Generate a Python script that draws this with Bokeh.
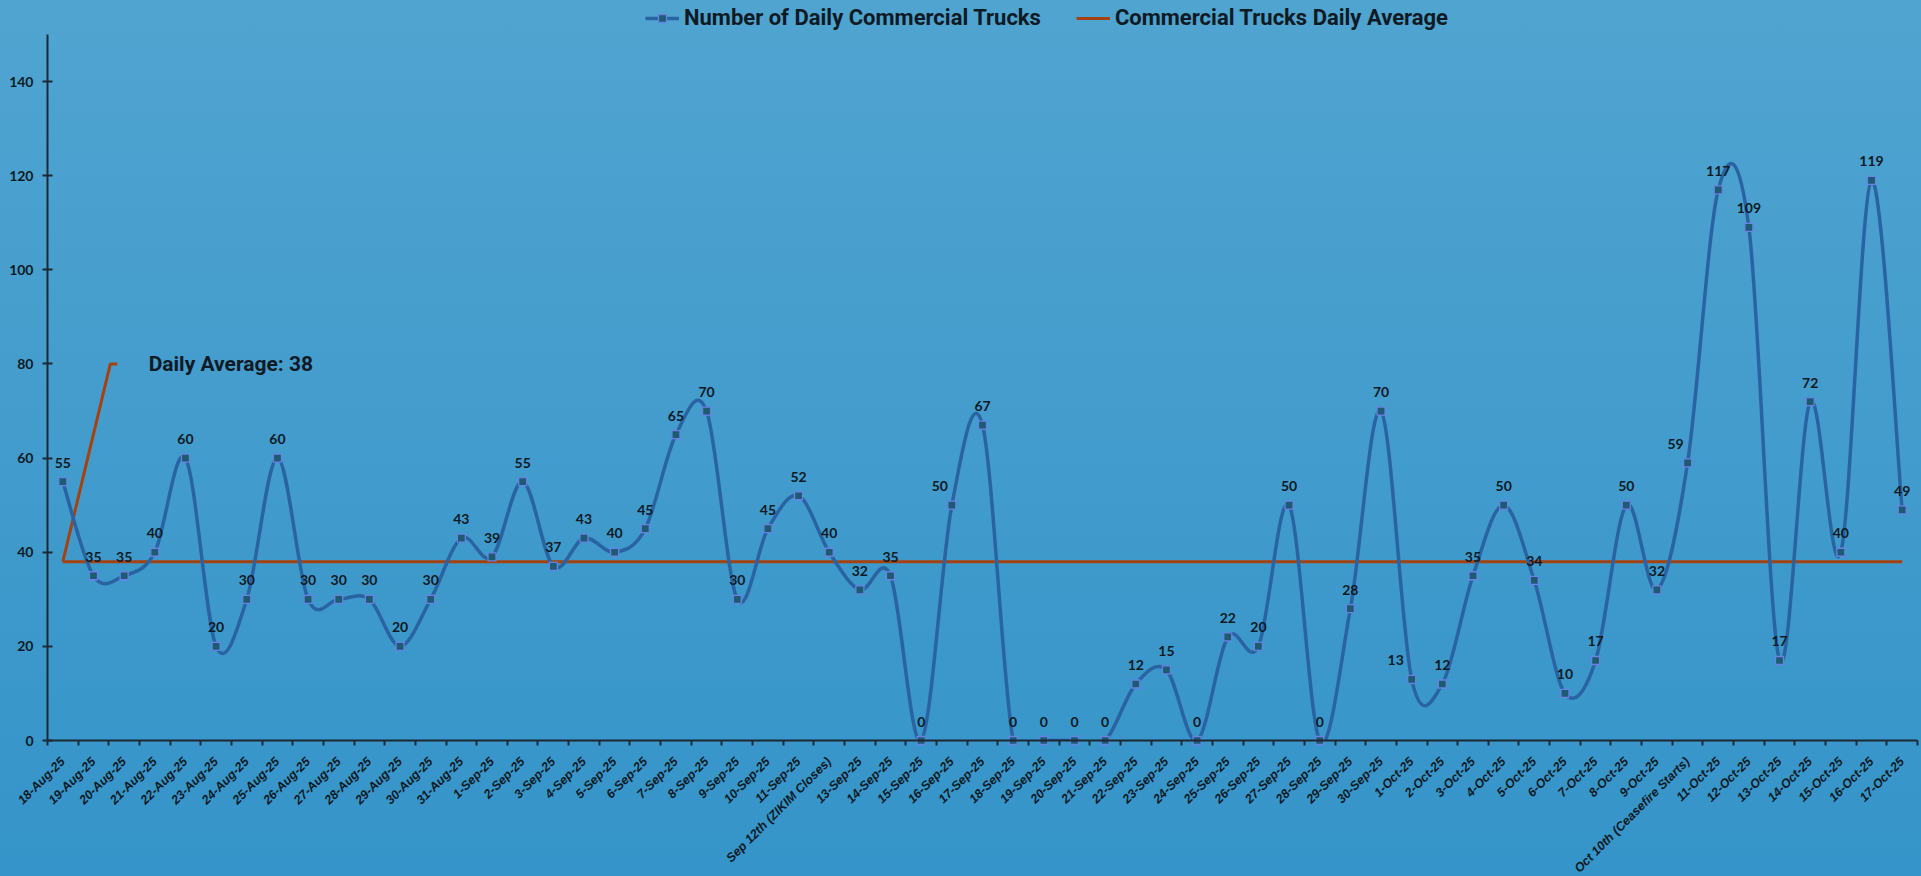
import math
from bokeh.plotting import figure
from bokeh.models import (Range1d, FixedTicker, ColumnDataSource, LabelSet, Label,
                          Legend, LegendItem, InlineStyleSheet)
from bokeh.core.properties import value
from bokeh.embed import file_html
from bokeh.resources import INLINE

# ---------------- data ----------------
dates = [
    "18-Aug-25", "19-Aug-25", "20-Aug-25", "21-Aug-25", "22-Aug-25", "23-Aug-25", "24-Aug-25",
    "25-Aug-25", "26-Aug-25", "27-Aug-25", "28-Aug-25", "29-Aug-25", "30-Aug-25", "31-Aug-25",
    "1-Sep-25", "2-Sep-25", "3-Sep-25", "4-Sep-25", "5-Sep-25", "6-Sep-25", "7-Sep-25",
    "8-Sep-25", "9-Sep-25", "10-Sep-25", "11-Sep-25", "Sep 12th (ZIKIM Closes)", "13-Sep-25",
    "14-Sep-25", "15-Sep-25", "16-Sep-25", "17-Sep-25", "18-Sep-25", "19-Sep-25", "20-Sep-25",
    "21-Sep-25", "22-Sep-25", "23-Sep-25", "24-Sep-25", "25-Sep-25", "26-Sep-25", "27-Sep-25",
    "28-Sep-25", "29-Sep-25", "30-Sep-25", "1-Oct-25", "2-Oct-25", "3-Oct-25", "4-Oct-25",
    "5-Oct-25", "6-Oct-25", "7-Oct-25", "8-Oct-25", "9-Oct-25", "Oct 10th (Ceasefire Starts)",
    "11-Oct-25", "12-Oct-25", "13-Oct-25", "14-Oct-25", "15-Oct-25", "16-Oct-25", "17-Oct-25",
]
trucks = [
    55, 35, 35, 40, 60, 20, 30, 60, 30, 30, 30, 20, 30, 43,
    39, 55, 37, 43, 40, 45, 65, 70, 30, 45, 52, 40, 32, 35, 0, 50,
    67, 0, 0, 0, 0, 12, 15, 0, 22, 20, 50, 0, 28, 70,
    13, 12, 35, 50, 34, 10, 17, 50, 32, 59, 117, 109, 17, 72, 40, 119, 49,
]
AVERAGE = 38
y_ticks = [0, 20, 40, 60, 80, 100, 120, 140]
Y_MAX = 150
series_names = ["Number of Daily Commercial Trucks", "Commercial Trucks Daily Average"]

# ---------------- style / layout ----------------
TEXT = "#0e1a24"
AXIS = "#1c2935"
CURVE = "#2a63a2"
AVG = "#a5420f"
HEAD = "Roboto"
NUMFONT = "Lato"
W, H = 1921, 876
FRAME_L, FRAME_R, FRAME_T, FRAME_B = 47, 1917, 34, 740   # plotting area in pixels
label_dx = {29: -12, 44: -16, 53: -12}   # a few data labels sit left of their point
leader_x = [0, 1.55, 1.78]               # leader line of the average label
leader_y_top = 80
avg_label_x = 2.8

n = len(dates)
idx = list(range(n))

# pixel scale -> ranges so the whole canvas is the frame (axes sit at fixed spots)
px_x = (FRAME_R - FRAME_L) / n
px_y = (FRAME_B - FRAME_T) / Y_MAX
x0r = -0.5 - FRAME_L / px_x
x1r = n - 0.5 + (W - FRAME_R) / px_x
y0r = -(H - FRAME_B) / px_y
y1r = Y_MAX + FRAME_T / px_y

# smoothed curve as Bezier segments (Catmull-Rom control points from the data)
seg = dict(x0=[], y0=[], x1=[], y1=[], cx0=[], cy0=[], cx1=[], cy1=[])
for i in range(n - 1):
    a = max(i - 1, 0)
    d = min(i + 2, n - 1)
    xa, ya = idx[a], trucks[a]
    xb, yb = idx[i], trucks[i]
    xc, yc = idx[i + 1], trucks[i + 1]
    xd, yd = idx[d], trucks[d]
    seg["x0"].append(xb); seg["y0"].append(yb)
    seg["x1"].append(xc); seg["y1"].append(yc)
    seg["cx0"].append(xb + (xc - xa) / 6.0); seg["cy0"].append(yb + (yc - ya) / 6.0)
    seg["cx1"].append(xc - (xd - xb) / 6.0); seg["cy1"].append(yc - (yd - yb) / 6.0)

p = figure(width=W, height=H,
           x_range=Range1d(x0r, x1r), y_range=Range1d(y0r, y1r),
           output_backend="svg", toolbar_location=None,
           min_border_left=0, min_border_right=0, min_border_top=0, min_border_bottom=0)
p.stylesheets = [InlineStyleSheet(css=":host { background: linear-gradient(to bottom, #50a4d0, #3594c9); }")]
p.border_fill_color = None
p.background_fill_color = None
p.outline_line_color = None
p.xgrid.visible = False
p.ygrid.visible = False

# y axis
p.yaxis.fixed_location = -0.5
p.yaxis.bounds = (0, Y_MAX)
p.yaxis.ticker = FixedTicker(ticks=y_ticks)
p.yaxis.axis_line_color = AXIS
p.yaxis.axis_line_width = 2
p.yaxis.major_tick_line_color = AXIS
p.yaxis.major_tick_line_width = 2
p.yaxis.major_tick_in = 5
p.yaxis.major_tick_out = 5
p.yaxis.minor_tick_line_color = None
p.yaxis.major_label_standoff = 9
p.yaxis.major_label_text_font = NUMFONT
p.yaxis.major_label_text_font_style = "bold"
p.yaxis.major_label_text_font_size = "14px"
p.yaxis.major_label_text_color = TEXT

# x axis: labels at categories, tick marks between categories
p.xaxis.fixed_location = 0
p.xaxis.bounds = (-0.5, n - 0.5)
p.xaxis.ticker = FixedTicker(ticks=idx, minor_ticks=[i - 0.5 for i in range(n + 1)])
p.xaxis.major_label_overrides = {i: d for i, d in enumerate(dates)}
p.xaxis.major_label_orientation = math.pi / 4
p.xaxis.major_label_standoff = 14
p.xaxis.major_label_text_font = "Liberation Sans"
p.xaxis.major_label_text_font_style = "bold italic"
p.xaxis.major_label_text_font_size = "12.5px"
p.xaxis.major_label_text_color = TEXT
p.xaxis.axis_line_color = AXIS
p.xaxis.axis_line_width = 2
p.xaxis.major_tick_line_color = None
p.xaxis.major_tick_in = 0
p.xaxis.major_tick_out = 5
p.xaxis.minor_tick_line_color = AXIS
p.xaxis.minor_tick_line_width = 2
p.xaxis.minor_tick_in = 0
p.xaxis.minor_tick_out = 5

# average line + leader + label
avg_r = p.line(idx, [AVERAGE] * n, line_color=AVG, line_width=3)
p.line(leader_x, [AVERAGE, leader_y_top, leader_y_top], line_color=AVG, line_width=3)
p.add_layout(Label(x=avg_label_x, y=leader_y_top, text=f"Daily Average: {AVERAGE}",
                   text_baseline="middle", text_align="left", text_font=HEAD,
                   text_font_style="bold", text_font_size="21px", text_color=TEXT))

# trucks curve
curve_r = p.bezier(source=ColumnDataSource(seg), x0="x0", y0="y0", x1="x1", y1="y1",
                   cx0="cx0", cy0="cy0", cx1="cx1", cy1="cy1",
                   line_color=CURVE, line_width=3.5)
# the curve is cut at the value axis (nothing drawn below zero)
p.quad(left=x0r, right=x1r, bottom=-8, top=0, fill_color="#3996ca", line_color=None)

pts_r = p.scatter(idx, trucks, marker="square", size=8, fill_color="#1c5b70",
                  line_color="#6a82e6", line_width=1.3)

lsrc = ColumnDataSource(dict(x=idx, y=trucks, t=[str(v) for v in trucks],
                             dx=[label_dx.get(i, 0) for i in idx]))
p.add_layout(LabelSet(x="x", y="y", text="t", source=lsrc, x_offset="dx", y_offset=14,
                      text_align="center", text_baseline="alphabetic",
                      text_font=value(NUMFONT), text_font_style="bold", text_font_size="14px",
                      text_color=TEXT))

legend = Legend(items=[LegendItem(label=series_names[0], renderers=[curve_r, pts_r]),
                       LegendItem(label=series_names[1], renderers=[avg_r])],
                orientation="horizontal", location=(645, H - 30),
                label_text_font=HEAD, label_text_font_style="bold",
                label_text_font_size="22px", label_text_color=TEXT,
                glyph_width=34, label_standoff=5, spacing=35, padding=3, margin=0,
                border_line_color=None, background_fill_alpha=0)
p.add_layout(legend, "center")

open("out.html", "w").write(file_html(p, INLINE))
